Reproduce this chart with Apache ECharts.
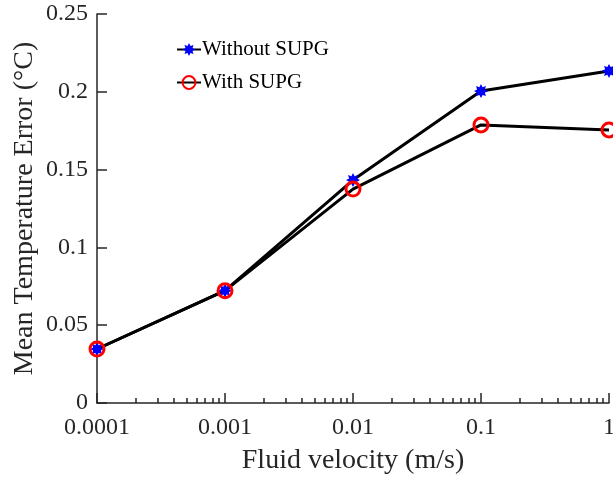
<!DOCTYPE html>
<html>
<head>
<meta charset="utf-8">
<script src="https://cdn.jsdelivr.net/npm/echarts@6/dist/echarts.min.js"></script>
<style>
  html, body { margin: 0; padding: 0; background: #fff; }
  #chartArea { width: 613px; height: 479px; }
</style>
</head>
<body>
<div id="chartArea"></div>
<script>
var velocities = [0.0001, 0.001, 0.01, 0.1, 1];
var withoutSupg = [0.0347, 0.0722, 0.1433, 0.2005, 0.2134];
var withSupg = [0.0347, 0.0722, 0.1375, 0.1787, 0.1755];
var seriesNames = ['Without SUPG', 'With SUPG'];

var textColor = '#262626';
var fontFamily = '"Liberation Serif", "Times New Roman", serif';

// blue asterisk marker shape
function starPath(spikes, inner) {
    var pts = [];
    for (var i = 0; i < spikes * 2; i++) {
        var r = i % 2 === 0 ? 10 : 10 * inner;
        var a = Math.PI * i / spikes - Math.PI / 2;
        pts.push((r * Math.cos(a)).toFixed(2) + ' ' + (r * Math.sin(a)).toFixed(2));
    }
    return 'path://M' + pts.join(' L') + ' Z';
}

// minor tick positions of the log axis, in decades
var minorTicks = [];
for (var e = -4; e < 0; e++) {
    for (var k = 2; k <= 9; k++) {
        minorTicks.push(e + Math.log10(k));
    }
}

var myChart = echarts.init(document.getElementById('chartArea'));

var option = {
    backgroundColor: '#fff',
    animation: false,
    textStyle: { fontFamily: fontFamily, color: textColor },
    grid: { left: 97, right: 4, top: 14, bottom: 76, outerBoundsMode: 'none' },
    legend: {
        orient: 'vertical',
        left: 171,
        top: 34,
        itemGap: 12,
        itemWidth: 24,
        itemHeight: 16,
        data: seriesNames,
        textStyle: { fontFamily: fontFamily, fontSize: 21, color: '#000', padding: [0, 0, 0, -4] }
    },
    xAxis: [{
        type: 'log',
        logBase: 10,
        min: 0.0001,
        max: 1,
        name: 'Fluid velocity (m/s)',
        nameLocation: 'middle',
        nameGap: 44,
        nameTextStyle: { fontFamily: fontFamily, fontSize: 28, color: textColor },
        axisLine: { lineStyle: { color: textColor, width: 1.5 } },
        axisTick: { inside: true, length: 10, lineStyle: { color: textColor, width: 1.5 } },
        axisLabel: { fontFamily: fontFamily, fontSize: 24, color: textColor, margin: 13 },
        splitLine: { show: false }
    }, {
        type: 'value',
        min: -4,
        max: 0,
        position: 'bottom',
        axisLine: { show: false, onZero: false },
        axisLabel: { show: false },
        axisTick: {
            inside: true,
            length: 5,
            customValues: minorTicks,
            lineStyle: { color: textColor, width: 1.5 }
        },
        splitLine: { show: false }
    }],
    yAxis: {
        type: 'value',
        min: 0,
        max: 0.25,
        interval: 0.05,
        name: 'Mean Temperature Error (\u00b0C)',
        nameLocation: 'middle',
        nameGap: 58,
        nameMoveOverlap: false,
        nameTextStyle: { fontFamily: fontFamily, fontSize: 28, color: textColor },
        axisLine: { show: true, onZero: false, lineStyle: { color: textColor, width: 1.5 } },
        axisTick: { show: true, inside: true, length: 10, lineStyle: { color: textColor, width: 1.5 } },
        axisLabel: { fontFamily: fontFamily, fontSize: 24, color: textColor, margin: 9 },
        splitLine: { show: false }
    },
    series: [{
        name: seriesNames[0],
        type: 'line',
        xAxisIndex: 0,
        data: velocities.map(function(v, i) { return [v, withoutSupg[i]]; }),
        symbol: starPath(8, 0.6),
        symbolSize: 14,
        lineStyle: { color: '#000', width: 3 },
        itemStyle: { color: '#0000ff', borderWidth: 0 }
    }, {
        name: seriesNames[1],
        type: 'line',
        xAxisIndex: 0,
        data: velocities.map(function(v, i) { return [v, withSupg[i]]; }),
        symbol: 'circle',
        symbolSize: 14,
        lineStyle: { color: '#000', width: 3 },
        itemStyle: { color: 'rgba(255,255,255,0)', borderColor: '#ff0000', borderWidth: 3 }
    }]
};

myChart.setOption(option);
</script>
</body>
</html>
